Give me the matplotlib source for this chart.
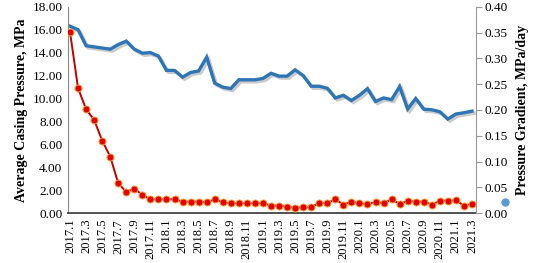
import matplotlib
matplotlib.use("Agg")
import matplotlib.pyplot as plt
import matplotlib.patheffects as pe
from matplotlib.lines import Line2D

# ---- data ----
months = [f"{y}.{m}" for y in range(2017, 2022) for m in range(1, 13)][:51]
tick_labels = months[::2]

casing_pressure = [16.3, 16.0, 14.6, 14.5, 14.4, 14.3, 14.7, 15.0, 14.3, 13.95,
                   14.0, 13.7, 12.45, 12.45, 11.86, 12.27, 12.4, 13.6, 11.34, 10.99,
                   10.87, 11.63, 11.63, 11.63, 11.75, 12.2, 11.95, 11.95, 12.5, 12.0,
                   11.07, 11.07, 10.9, 10.05, 10.28, 9.83, 10.28, 10.86, 9.74, 10.05,
                   9.9, 11.04, 9.08, 10.0, 9.07, 9.02, 8.85, 8.21, 8.65, 8.76, 8.9]

pressure_gradient = [0.3511, 0.2422, 0.2016, 0.1809, 0.1409, 0.1098, 0.0582, 0.0413, 0.0478, 0.0356,
                     0.0271, 0.0271, 0.0271, 0.0271, 0.0227, 0.0227, 0.0227, 0.0213, 0.0271, 0.0213,
                     0.0193, 0.0193, 0.0193, 0.0193, 0.0193, 0.0149, 0.0149, 0.0129, 0.0104, 0.0116,
                     0.0116, 0.0200, 0.0200, 0.0271, 0.0169, 0.0227, 0.0193, 0.0173, 0.0220, 0.0193,
                     0.0271, 0.0180, 0.0240, 0.0227, 0.0227, 0.0169, 0.0244, 0.0244, 0.0251, 0.0149,
                     0.0180]

left_ticks = [0, 2, 4, 6, 8, 10, 12, 14, 16, 18]
right_ticks = [0, 0.05, 0.10, 0.15, 0.20, 0.25, 0.30, 0.35, 0.40]

plt.rcParams['font.family'] = ['Liberation Serif', 'DejaVu Serif']

fig = plt.figure(figsize=(5.33, 2.63), dpi=100)
ax = fig.add_axes([68/533, 1-213.3/263, (476-68)/533, (213.3-6.7)/263])
ax2 = ax.twinx()

x = list(range(len(months)))
ax.plot(x, casing_pressure, color='#2E75B6', lw=2.4, solid_joinstyle='miter',
        path_effects=[pe.SimpleLineShadow(offset=(1.5, -1.5), shadow_color='#999999', alpha=0.5),
                      pe.Normal()])
ax2.plot(x, pressure_gradient, color='#C00000', lw=1.4, marker='o', ms=5,
         mfc='#E00000', mec='#FF9A2E', mew=0.7)

ax.set_xlim(-0.25, 50.5)
ax.set_ylim(0, 18)
ax2.set_ylim(0, 0.4)

ax.set_yticks(left_ticks)
ax.set_yticklabels([f"{v:.2f}" for v in left_ticks], fontsize=9.5)
ax2.set_yticks(right_ticks)
ax2.set_yticklabels([f"{v:.2f}" for v in right_ticks], fontsize=9.5)

ax.set_xticks(x[::2])
ax.set_xticklabels(tick_labels, rotation=90, fontsize=9)

ax.tick_params(axis='y', length=0, pad=4)
ax.tick_params(axis='x', length=0, pad=4)
ax2.tick_params(axis='y', length=4, width=0.8, color='#999999', pad=2)

for a in (ax, ax2):
    a.spines['top'].set_visible(False)
ax.spines['left'].set_color('#888888')
ax2.spines['left'].set_visible(False)
ax2.spines['right'].set_color('#999999')
ax.spines['right'].set_visible(False)
ax.spines['bottom'].set_color('#333333')
ax.spines['bottom'].set_linewidth(1.2)
ax2.spines['bottom'].set_visible(False)

ax.set_ylabel("Average Casing Pressure, MPa", fontsize=10, fontweight='bold', labelpad=3)
ax2.set_ylabel("Pressure Gradient, MPa/day", fontsize=10, fontweight='bold', labelpad=6)

fig.add_artist(Line2D([505/533], [1-202/263], marker='o', ms=5, color='#5B9BD5',
                      transform=fig.transFigure))

fig.savefig("out.png", dpi=100)
